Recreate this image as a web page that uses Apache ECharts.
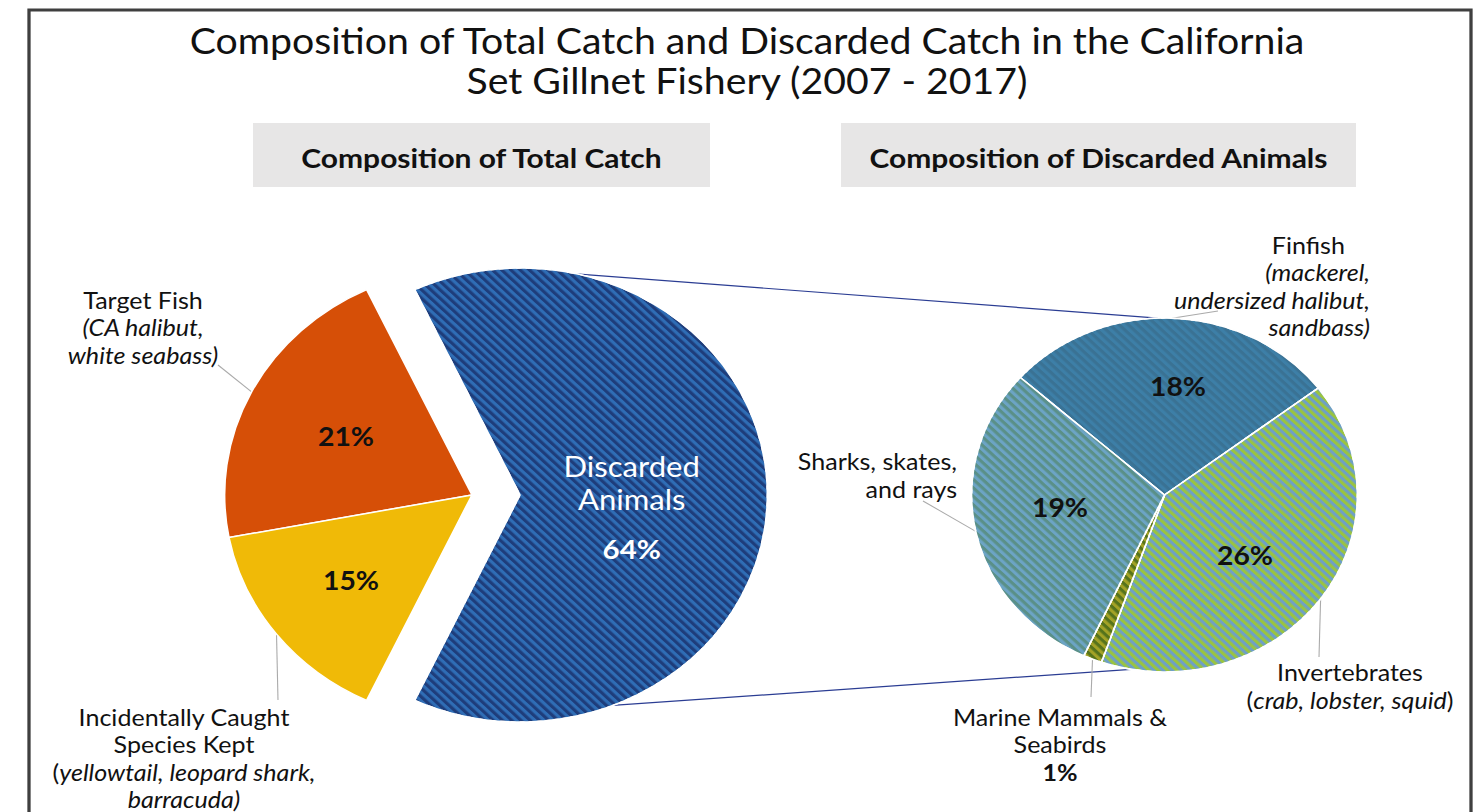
<!DOCTYPE html>
<html>
<head>
<meta charset="utf-8">
<script src="https://cdn.jsdelivr.net/npm/echarts@6/dist/echarts.min.js"></script>
<style>
html,body{margin:0;padding:0;background:#fff;overflow:hidden;width:1480px;height:812px}
#chart{width:1358px;height:812px;transform:scaleX(1.089838);transform-origin:0 0}
</style>
</head>
<body>
<div id="chart"></div>
<script>
// ---------------- data ----------------
const chartTitle = ['Composition of Total Catch and Discarded Catch in the California', 'Set Gillnet Fishery (2007 - 2017)'];
const panelTitles = ['Composition of Total Catch', 'Composition of Discarded Animals'];
const totalCategories = ['Target Fish', 'Incidentally Caught Species Kept', 'Discarded Animals'];
const totalValues = [21, 15, 64];
const discardCategories = ['Finfish', 'Invertebrates', 'Marine Mammals & Seabirds', 'Sharks, skates, and rays'];
const discardValues = [18, 26, 1, 19];

// ---------------- layout helpers ----------------
const W = 1358, SX = 1480 / W;
const px = x => x / SX;            // reference x -> local x
const FONT = 'Lato, "Noto Sans", sans-serif';
const TXT = '#111111';

const L = { cx: px(472), cy: 495, r: 227, off: px(520) - px(472) };
const R = { cx: px(1164.5), cy: 495, r: 177 };
const leftStart = totalValues[2] / totalValues.reduce((a, b) => a + b, 0) * 360 / 2;
const rightStart = 138.4;

const colorsTotal = {
  'Target Fish': { color: '#D64F07' },
  'Incidentally Caught Species Kept': { color: '#F0BA07' },
  'Discarded Animals': { color: '#1E3D7B', decal: '#2F6DB5' }
};
const colorsDiscard = {
  'Finfish': { color: '#3D7FA7', decal: '#3A7294' },
  'Invertebrates': { color: '#9AC440', decal: '#6E9FC6' },
  'Marine Mammals & Seabirds': { color: '#A3A226', decal: '#56731C' },
  'Sharks, skates, and rays': { color: '#6CA4C5', decal: '#5A9088' }
};
function decal(c) {
  return c ? { symbol: 'rect', symbolSize: 1, color: c, dashArrayX: [1, 0], dashArrayY: [3, 3], rotation: Math.PI / 4 } : undefined;
}

// label anchors (reference pixel positions)
const outerPos = {
  'Target Fish': { x: 143, y: 327, align: 'center', end: [218, 365] },
  'Incidentally Caught Species Kept': { x: 184, y: 758, align: 'center', end: [278, 700] },
  'Finfish': { x: 1370, y: 286, align: 'right', end: [1218, 311] },
  'Invertebrates': { x: 1350, y: 686, align: 'center', end: [1319, 657] },
  'Marine Mammals & Seabirds': { x: 1060, y: 744, align: 'center', end: [1091, 697] },
  'Sharks, skates, and rays': { x: 957, y: 475, align: 'right', end: [923, 501] }
};
const innerPos = {
  'Target Fish': [346, 436],
  'Incidentally Caught Species Kept': [351, 580],
  'Finfish': [1178, 386],
  'Invertebrates': [1245, 555],
  'Sharks, skates, and rays': [1060, 507]
};
function outerText(name, value) {
  switch (name) {
    case 'Target Fish': return '{n|Target Fish}\n{i|(CA halibut,}\n{i|white seabass)}';
    case 'Incidentally Caught Species Kept': return '{n|Incidentally Caught}\n{n|Species Kept}\n{n|(}{i|yellowtail, leopard shark,}\n{i|barracuda)}';
    case 'Finfish': return '{f|Finfish}\n{i|(mackerel,}\n{i|undersized halibut,}\n{i|sandbass)}';
    case 'Invertebrates': return '{n|Invertebrates}\n{n|(}{i|crab, lobster, squid}{n|)}';
    case 'Marine Mammals & Seabirds': return '{n|Marine Mammals &}\n{n|Seabirds}\n{b|' + value + '%}';
    case 'Sharks, skates, and rays': return '{n|Sharks, skates,}\n{n|and rays}';
  }
  return '';
}
const richOuter = {
  n: { fontFamily: FONT, fontSize: 23, lineHeight: 27.5, color: TXT },
  i: { fontFamily: FONT, fontSize: 23, lineHeight: 27.5, color: TXT, fontStyle: 'italic' },
  f: { fontFamily: FONT, fontSize: 23, lineHeight: 27.5, color: TXT, padding: [0, 23, 0, 0] },
  b: { fontFamily: FONT, fontSize: 23, lineHeight: 27.5, color: TXT, fontWeight: 'bold' }
};

function midAngle(values, i, start, clockwise) {
  const sum = values.reduce((a, b) => a + b, 0);
  let before = 0;
  for (let k = 0; k < i; k++) before += values[k];
  const frac = (before + values[i] / 2) / sum * 360;
  return (clockwise ? start - frac : start + frac) * Math.PI / 180;
}
function polar(c, r, a) { return [c.cx + r * Math.cos(a), c.cy - r * Math.sin(a)]; }

function outerLayout(names, values, geo, start, clockwise) {
  return function (p) {
    const name = names[p.dataIndex];
    const pos = outerPos[name];
    if (!pos) return {};
    const s = polar(geo, geo.r, midAngle(values, p.dataIndex, start, clockwise));
    return {
      x: px(pos.x), y: pos.y, align: pos.align, verticalAlign: 'middle',
      labelLinePoints: [s, [px(pos.end[0]), pos.end[1]]]
    };
  };
}
function innerLayout(names) {
  return function (p) {
    const pos = innerPos[names[p.dataIndex]];
    if (!pos) return {};
    return { x: px(pos[0]), y: pos[1], align: 'center', verticalAlign: 'middle' };
  };
}

const pctLabel = { show: true, position: 'inside', formatter: p => p.value + '%', fontFamily: FONT, fontWeight: 'bold', fontSize: 26, color: TXT };

const series = [
  {
    type: 'pie', center: [L.cx, L.cy], radius: L.r, startAngle: leftStart, clockwise: false,
    selectedMode: 'single', selectedOffset: L.off, silent: true, avoidLabelOverlap: false,
    emphasis: { disabled: true },
    itemStyle: { borderColor: '#ffffff', borderWidth: 1.5 },
    label: pctLabel, labelLine: { show: false },
    labelLayout: innerLayout(totalCategories),
    data: totalCategories.map((n, i) => {
      const d = {
        name: n, value: totalValues[i], selected: n === 'Discarded Animals',
        itemStyle: { color: colorsTotal[n].color, decal: decal(colorsTotal[n].decal) },
        select: { itemStyle: { color: colorsTotal[n].color, decal: decal(colorsTotal[n].decal) } }
      };
      if (n === 'Discarded Animals') {
        d.label = {
          fontWeight: 'normal',
          padding: [40, 28, 0, 0],
          formatter: p => p.name.split(' ').map(w => '{w|' + w + '}').join('\n') + '\n{wb|' + p.value + '%}',
          rich: {
            w: { fontFamily: FONT, fontSize: 28.5, lineHeight: 33, color: '#ffffff', fontWeight: 'normal' },
            wb: { fontFamily: FONT, fontSize: 27, lineHeight: 65, color: '#ffffff', fontWeight: 'bold' }
          }
        };
      }
      return d;
    })
  },
  {
    type: 'pie', center: [L.cx, L.cy], radius: L.r, startAngle: leftStart, clockwise: false,
    silent: true, avoidLabelOverlap: false, emphasis: { disabled: true },
    itemStyle: { color: 'rgba(0,0,0,0)', borderWidth: 0 },
    label: { show: true, position: 'outside', formatter: p => outerText(p.name, p.value), rich: richOuter },
    labelLine: { show: true, length: 10, length2: 10, lineStyle: { color: '#AAAAAA', width: 1 } },
    labelLayout: outerLayout(totalCategories, totalValues, L, leftStart, false),
    data: totalCategories.map((n, i) => ({
      name: n, value: totalValues[i],
      label: { show: !!outerPos[n] }, labelLine: { show: !!outerPos[n] }
    }))
  },
  {
    type: 'pie', center: [R.cx, R.cy], radius: R.r, startAngle: rightStart, clockwise: true,
    silent: true, avoidLabelOverlap: false, emphasis: { disabled: true },
    itemStyle: { borderColor: '#ffffff', borderWidth: 1.5 },
    label: pctLabel, labelLine: { show: false },
    labelLayout: innerLayout(discardCategories),
    data: discardCategories.map((n, i) => ({
      name: n, value: discardValues[i],
      itemStyle: { color: colorsDiscard[n].color, decal: decal(colorsDiscard[n].decal) },
      label: { show: !!innerPos[n] }
    }))
  },
  {
    type: 'pie', center: [R.cx, R.cy], radius: R.r, startAngle: rightStart, clockwise: true,
    silent: true, avoidLabelOverlap: false, emphasis: { disabled: true },
    itemStyle: { color: 'rgba(0,0,0,0)', borderWidth: 0 },
    label: { show: true, position: 'outside', formatter: p => outerText(p.name, p.value), rich: richOuter },
    labelLine: { show: true, length: 10, length2: 10, lineStyle: { color: '#AAAAAA', width: 1 } },
    labelLayout: outerLayout(discardCategories, discardValues, R, rightStart, true),
    data: discardCategories.map((n, i) => ({ name: n, value: discardValues[i] }))
  }
];

// connector lines between the exploded slice and the second pie
const LC = { cx: L.cx + L.off, cy: L.cy };
const deg = a => a * Math.PI / 180;
const c1a = polar(LC, L.r, deg(77)), c1b = polar(R, R.r, deg(92));
const c2a = polar(LC, L.r, deg(-68)), c2b = polar(R, R.r, deg(-100));

function headerBox(x0, x1, text) {
  return [
    { type: 'rect', z: 1, shape: { x: px(x0), y: 123, width: px(x1) - px(x0), height: 64 }, style: { fill: '#E7E6E6' } },
    { type: 'text', z: 2, x: px((x0 + x1) / 2), y: 157, style: { text: text, fill: TXT, font: 'bold 27.5px ' + FONT, align: 'center', verticalAlign: 'middle', textAlign: 'center', textVerticalAlign: 'middle' } }
  ];
}

const option = {
  animation: false,
  backgroundColor: '#ffffff',
  graphic: [
    { type: 'rect', z: 0, shape: { x: px(29), y: 10, width: px(1471) - px(29), height: 900 }, style: { fill: 'none', stroke: '#3F3F3F', lineWidth: 3 } },
    { type: 'text', z: 2, x: px(747), y: 60, style: { text: chartTitle.join('\n'), fill: TXT, font: '36px ' + FONT, lineHeight: 40, align: 'center', verticalAlign: 'middle', textAlign: 'center', textVerticalAlign: 'middle' } },
    ...headerBox(253, 710, panelTitles[0]),
    ...headerBox(841, 1356, panelTitles[1]),
    { type: 'line', z: 1, shape: { x1: c1a[0], y1: c1a[1], x2: c1b[0], y2: c1b[1] }, style: { stroke: '#2B3D93', lineWidth: 1.2 } },
    { type: 'line', z: 1, shape: { x1: c2a[0], y1: c2a[1], x2: c2b[0], y2: c2b[1] }, style: { stroke: '#2B3D93', lineWidth: 1.2 } }
  ],
  series: series
};

const chart = echarts.init(document.getElementById('chart'), null, { renderer: 'svg', width: W, height: 812 });
chart.setOption(option);
</script>
</body>
</html>
